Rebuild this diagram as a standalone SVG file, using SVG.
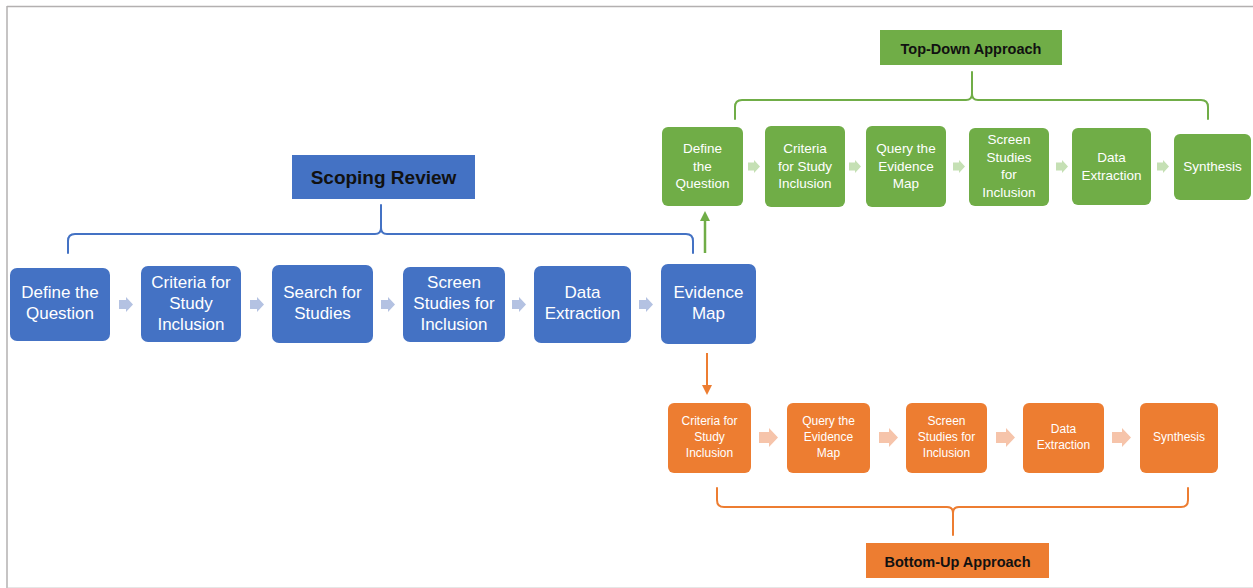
<svg xmlns="http://www.w3.org/2000/svg" width="1253" height="588" viewBox="0 0 1253 588">
<defs>
<style>
.blue{fill:#4472C4}
.green{fill:#70AD47}
.orange{fill:#ED7D31}
.tb{font-family:"Liberation Sans",Arial,sans-serif;font-size:17px;fill:#fff;text-anchor:middle}
.tg{font-family:"Liberation Sans",Arial,sans-serif;font-size:13.5px;fill:#fff;text-anchor:middle}
.to{font-family:"Liberation Sans",Arial,sans-serif;font-size:12px;fill:#fff;text-anchor:middle}
.title{font-family:"Liberation Sans",Arial,sans-serif;font-weight:bold;fill:#111;text-anchor:middle}
.brace{fill:none;stroke-width:2;stroke-linecap:round;stroke-linejoin:round}
.ab{fill:#B4C2E2}
.ag{fill:#C5E0B4}
.ao{fill:#F6C4AA}
</style>
<marker id="hg" markerWidth="10" markerHeight="10" refX="5" refY="5" orient="auto" markerUnits="userSpaceOnUse">
<path d="M0,0 L10,5 L0,10 Z" fill="#70AD47"/>
</marker>
<marker id="ho" markerWidth="10" markerHeight="10" refX="5" refY="5" orient="auto" markerUnits="userSpaceOnUse">
<path d="M0,0 L10,5 L0,10 Z" fill="#ED7D31"/>
</marker>
</defs>
<rect x="0" y="0" width="1253" height="588" fill="#fff"/>
<g id="frame">
<line x1="7" y1="6.5" x2="1253" y2="6.5" stroke="#B3B0B0" stroke-width="1.5"/>
<line x1="7" y1="6" x2="7" y2="588" stroke="#B3B0B0" stroke-width="1.5"/>
<line x1="8" y1="587.5" x2="1253" y2="587.5" stroke="#E6E6E6" stroke-width="1"/>
</g>

<g id="connectors">
<path class="brace" stroke="#4472C4" d="M68,253 V241 Q68,234 75,234 H375 Q381,234 381,228 V205 M381,228 Q381,234 387,234 H686 Q693,234 693,241 V253"/>
<path class="brace" stroke="#70AD47" d="M735,119 V107 Q735,100 742,100 H966 Q972,100 972,94 V72 M972,94 Q972,100 978,100 H1201 Q1208,100 1208,107 V119"/>
<path class="brace" stroke="#ED7D31" d="M717,488 V500 Q717,507 724,507 H947 Q953,507 953,513 V535 M953,513 Q953,507 959,507 H1181 Q1188,507 1188,500 V488"/>
<line x1="705" y1="253" x2="705" y2="216" stroke="#70AD47" stroke-width="2.5" marker-end="url(#hg)"/>
<line x1="707" y1="353" x2="707" y2="390" stroke="#ED7D31" stroke-width="2" marker-end="url(#ho)"/>
<!-- blue small arrows -->
<path class="ab" d="M119,300 H126 V297 L133,304.5 L126,312 V309 H119 Z"/>
<path class="ab" d="M250,300 H257 V297 L264,304.5 L257,312 V309 H250 Z"/>
<path class="ab" d="M381,300 H388 V297 L395,304.5 L388,312 V309 H381 Z"/>
<path class="ab" d="M512,300 H519 V297 L526,304.5 L519,312 V309 H512 Z"/>
<path class="ab" d="M639,300 H646 V297 L653,304.5 L646,312 V309 H639 Z"/>
<!-- green small arrows -->
<path class="ag" d="M748,162.5 H754 V160 L760,166.5 L754,173 V170.5 H748 Z"/>
<path class="ag" d="M849,162.5 H855 V160 L861,166.5 L855,173 V170.5 H849 Z"/>
<path class="ag" d="M953,162.5 H959 V160 L965,166.5 L959,173 V170.5 H953 Z"/>
<path class="ag" d="M1056,162.5 H1062 V160 L1068,166.5 L1062,173 V170.5 H1056 Z"/>
<path class="ag" d="M1157,162.5 H1163 V160 L1169,166.5 L1163,173 V170.5 H1157 Z"/>
<!-- orange arrows -->
<path class="ao" d="M759,432 H769 V428 L778,437.5 L769,447 V443 H759 Z"/>
<path class="ao" d="M879,432 H889 V428 L898,437.5 L889,447 V443 H879 Z"/>
<path class="ao" d="M996,432 H1006 V428 L1015,437.5 L1006,447 V443 H996 Z"/>
<path class="ao" d="M1112,432 H1122 V428 L1131,437.5 L1122,447 V443 H1112 Z"/>
</g>

<!-- titles -->
<g id="scoping-review">
<rect class="blue" x="292" y="155" width="183" height="44"/>
<text class="title" x="383.5" y="184" font-size="19">Scoping Review</text>
</g>
<g id="top-down">
<rect class="green" x="880" y="30" width="182" height="35"/>
<text class="title" x="971" y="54" font-size="14.5">Top-Down Approach</text>
</g>
<g id="bottom-up">
<rect class="orange" x="866" y="543" width="183" height="35"/>
<text class="title" x="957.5" y="567" font-size="14.5">Bottom-Up Approach</text>
</g>

<!-- blue row -->
<g id="b1"><rect class="blue" x="10" y="268" width="100" height="73" rx="7"/>
<text class="tb" x="60" y="298">Define the</text><text class="tb" x="60" y="319">Question</text></g>
<g id="b2"><rect class="blue" x="141" y="266" width="100" height="76" rx="7"/>
<text class="tb" x="191" y="288">Criteria for</text><text class="tb" x="191" y="309">Study</text><text class="tb" x="191" y="330">Inclusion</text></g>
<g id="b3"><rect class="blue" x="272" y="265" width="101" height="78" rx="7"/>
<text class="tb" x="322.5" y="298">Search for</text><text class="tb" x="322.5" y="319">Studies</text></g>
<g id="b4"><rect class="blue" x="403" y="267" width="102" height="75" rx="7"/>
<text class="tb" x="454" y="288">Screen</text><text class="tb" x="454" y="309">Studies for</text><text class="tb" x="454" y="330">Inclusion</text></g>
<g id="b5"><rect class="blue" x="534" y="266" width="97" height="77" rx="7"/>
<text class="tb" x="582.5" y="298">Data</text><text class="tb" x="582.5" y="319">Extraction</text></g>
<g id="b6"><rect class="blue" x="661" y="264" width="95" height="80" rx="7"/>
<text class="tb" x="708.5" y="298">Evidence</text><text class="tb" x="708.5" y="319">Map</text></g>

<!-- green row -->
<g id="g1"><rect class="green" x="662" y="127" width="81" height="79" rx="6"/>
<text class="tg" x="702.5" y="153">Define</text><text class="tg" x="702.5" y="170.5">the</text><text class="tg" x="702.5" y="188">Question</text></g>
<g id="g2"><rect class="green" x="765" y="126" width="80" height="81" rx="6"/>
<text class="tg" x="805" y="153">Criteria</text><text class="tg" x="805" y="170.5">for Study</text><text class="tg" x="805" y="188">Inclusion</text></g>
<g id="g3"><rect class="green" x="866" y="126" width="80" height="81" rx="6"/>
<text class="tg" x="906" y="153">Query the</text><text class="tg" x="906" y="170.5">Evidence</text><text class="tg" x="906" y="188">Map</text></g>
<g id="g4"><rect class="green" x="969" y="128" width="80" height="78" rx="6"/>
<text class="tg" x="1009" y="144">Screen</text><text class="tg" x="1009" y="161.5">Studies</text><text class="tg" x="1009" y="179">for</text><text class="tg" x="1009" y="196.5">Inclusion</text></g>
<g id="g5"><rect class="green" x="1072" y="128" width="79" height="77" rx="6"/>
<text class="tg" x="1111.5" y="162">Data</text><text class="tg" x="1111.5" y="179.5">Extraction</text></g>
<g id="g6"><rect class="green" x="1174" y="134" width="77" height="66" rx="6"/>
<text class="tg" x="1212.5" y="171">Synthesis</text></g>

<!-- orange row -->
<g id="o1"><rect class="orange" x="668" y="403" width="83" height="70" rx="6"/>
<text class="to" x="709.5" y="425">Criteria for</text><text class="to" x="709.5" y="441">Study</text><text class="to" x="709.5" y="457">Inclusion</text></g>
<g id="o2"><rect class="orange" x="787" y="403" width="83" height="70" rx="6"/>
<text class="to" x="828.5" y="425">Query the</text><text class="to" x="828.5" y="441">Evidence</text><text class="to" x="828.5" y="457">Map</text></g>
<g id="o3"><rect class="orange" x="906" y="403" width="81" height="70" rx="6"/>
<text class="to" x="946.5" y="425">Screen</text><text class="to" x="946.5" y="441">Studies for</text><text class="to" x="946.5" y="457">Inclusion</text></g>
<g id="o4"><rect class="orange" x="1023" y="403" width="81" height="70" rx="6"/>
<text class="to" x="1063.5" y="433">Data</text><text class="to" x="1063.5" y="449">Extraction</text></g>
<g id="o5"><rect class="orange" x="1140" y="403" width="78" height="70" rx="6"/>
<text class="to" x="1179" y="441">Synthesis</text></g>
</svg>
